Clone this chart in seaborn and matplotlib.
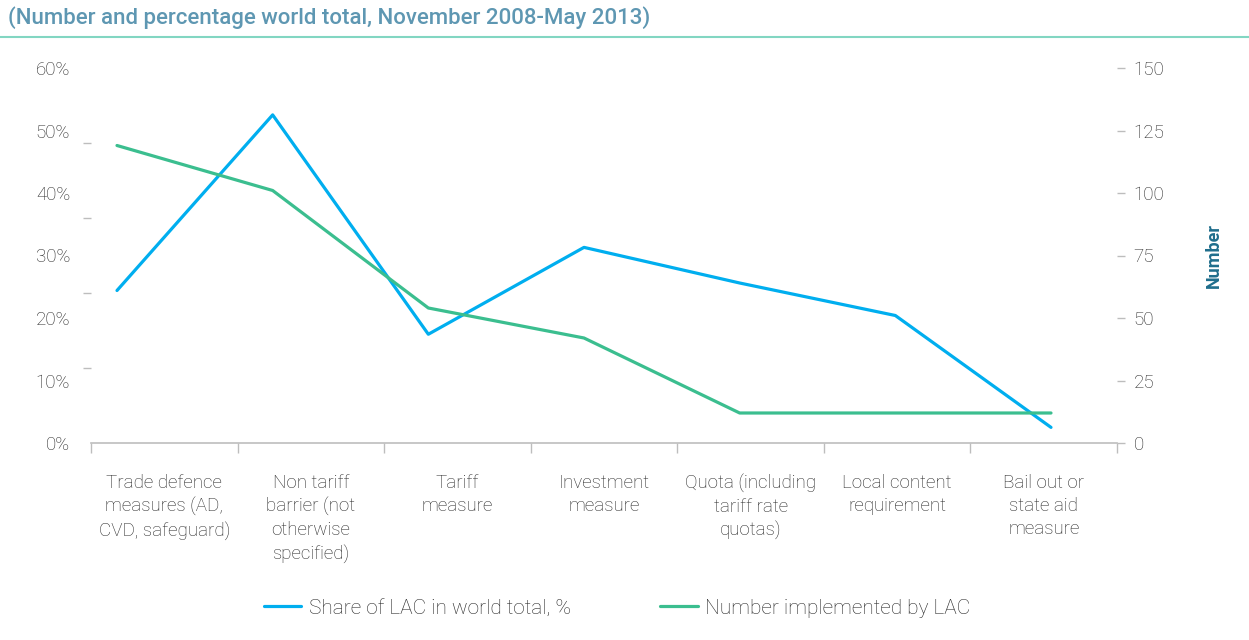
import matplotlib
matplotlib.use("Agg")
import matplotlib.pyplot as plt
from matplotlib import font_manager as fm
from matplotlib.lines import Line2D
from matplotlib.ticker import FixedLocator, NullFormatter
import seaborn as sns
import pandas as pd
import numpy as np

# ---------------- data ----------------
categories = [
    "Trade defence\nmeasures (AD,\nCVD, safeguard)",
    "Non tariff\nbarrier (not\notherwise\nspecified)",
    "Tariff\nmeasure",
    "Investment\nmeasure",
    "Quota (including\ntariff rate\nquotas)",
    "Local content\nrequirement",
    "Bail out or\nstate aid\nmeasure",
]
share_pct = [24.4, 52.5, 17.4, 31.3, 25.6, 20.4, 2.5]      # Share of LAC in world total, %
number_lac = [119, 101, 54, 42, 12, 12, 12]                 # Number implemented by LAC
left_labels = ["0%", "10%", "20%", "30%", "40%", "50%", "60%"]
right_ticks = [0, 25, 50, 75, 100, 125, 150]

title = "(Number and percentage world total, November 2008-May 2013)"
series_names = ["Share of LAC in world total, %", "Number implemented by LAC"]

BLUE = "#00AEEF"
GREEN = "#3BBE8F"
TITLE_C = "#5E97B2"
RULE_C = "#82D6C2"
AXIS_C = "#BDBDBD"
TEXT_C = "#262626"
NUM_C = "#1F6E8C"

sns.set_theme(style="white")
names = {f.name for f in fm.fontManager.ttflist}
main_font = "Liberation Sans Narrow" if "Liberation Sans Narrow" in names else "Roboto"
plt.rcParams["font.family"] = [main_font, "DejaVu Sans"]
LIGHT = "light"

df = pd.DataFrame({
    "pos": np.arange(len(categories)),
    "share": np.array(share_pct) / 100.0,
    "number": number_lac,
})

fig = plt.figure(figsize=(12.49, 6.4), dpi=100)
ax = fig.add_axes([91 / 1249, 1 - 443 / 640, (1117 - 91) / 1249, (443 - 68) / 640])

sns.lineplot(data=df, x="pos", y="share", ax=ax, color=BLUE, linewidth=2.3,
             label=series_names[0], legend=False)
ax2 = ax.twinx()
sns.lineplot(data=df, x="pos", y="number", ax=ax2, color=GREEN, linewidth=2.3,
             label=series_names[1], legend=False)

ax.set_xlim(-0.167, 6.424)
ax.set_ylim(0, 0.6)
ax2.set_ylim(0, 150)

# left axis: labels every 10%, tick marks every 12%
ax.yaxis.set_major_locator(FixedLocator(np.arange(0, 0.61, 0.1)))
ax.set_yticklabels(left_labels, fontweight=LIGHT)
ax.yaxis.set_minor_locator(FixedLocator(np.linspace(0, 0.6, 6)))
ax.yaxis.set_minor_formatter(NullFormatter())
ax.tick_params(axis="y", which="major", length=0, pad=15, labelsize=13.5, labelcolor=TEXT_C)
ax.tick_params(axis="y", which="minor", left=True, length=6, width=1, color=AXIS_C, direction="out")
ax.set_xticks([])
ax.set_xlabel("")
ax.set_ylabel("")

# right axis
ax2.set_yticks(right_ticks)
ax2.set_yticklabels([str(v) for v in right_ticks], fontweight=LIGHT)
ax2.tick_params(axis="y", which="major", right=True, length=6, width=1, color=AXIS_C,
                pad=6, labelsize=13.5, labelcolor=TEXT_C, direction="out")
ax2.set_ylabel("Number", color=NUM_C, fontsize=13, fontweight="bold")
ax2.yaxis.set_label_coords(1.086, 0.5)
ax2.set_xlabel("")

# category axis
ax3 = ax.twiny()
ax3.set_xlim(0, len(categories))
ax3.xaxis.set_ticks_position("bottom")
ax3.xaxis.set_label_position("bottom")
ax3.set_xticks(np.arange(0, len(categories) + 1))
ax3.set_xticklabels([])
ax3.set_xticks(np.arange(len(categories)) + 0.5, minor=True)
ax3.set_xticklabels(categories, minor=True, fontweight=LIGHT)
ax3.tick_params(axis="x", which="major", bottom=True, top=False, length=7, width=1,
                color=AXIS_C, direction="out")
ax3.tick_params(axis="x", which="minor", bottom=True, top=False, length=0, pad=22,
                labelsize=13.5, labelcolor=TEXT_C)
for lab in ax3.get_xticklabels(minor=True):
    lab.set_linespacing(1.38)

for a in (ax, ax2, ax3):
    for s in ("top", "left", "right", "bottom"):
        a.spines[s].set_visible(False)
ax.spines["bottom"].set_visible(True)
ax.spines["bottom"].set_color(AXIS_C)
ax.spines["bottom"].set_linewidth(1.2)

# title and rule
fig.text(8 / 1249, 1 - 18 / 640, title, ha="left", va="center", fontsize=16,
         fontweight="medium", color=TITLE_C)
fig.add_artist(Line2D([0, 1], [1 - 37 / 640, 1 - 37 / 640], transform=fig.transFigure,
                      color=RULE_C, linewidth=1.5))

# legend
h1, l1 = ax.get_legend_handles_labels()
h2, l2 = ax2.get_legend_handles_labels()
leg = fig.legend(h1 + h2, l1 + l2, loc="center", bbox_to_anchor=(0.494, 1 - 608 / 640), ncol=2,
                 frameon=False, fontsize=15, handlelength=1.8, handletextpad=0.35,
                 columnspacing=4.3, labelcolor=TEXT_C)
for t in leg.get_texts():
    t.set_fontweight(LIGHT)

fig.savefig("out.png", dpi=100)
